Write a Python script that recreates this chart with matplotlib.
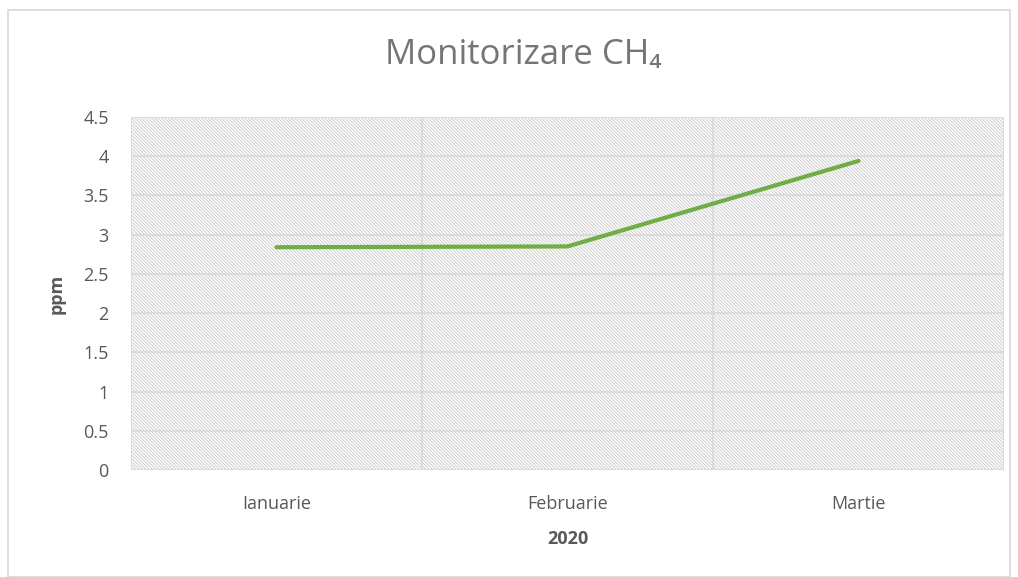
import matplotlib
matplotlib.use("Agg")
import matplotlib.pyplot as plt
from matplotlib.patches import Rectangle

plt.rcParams['font.family'] = ['Open Sans', 'DejaVu Sans']
plt.rcParams['hatch.linewidth'] = 0.7

# data
months = ["Ianuarie", "Februarie", "Martie"]
ch4_ppm = [2.84, 2.85, 3.94]

fig = plt.figure(figsize=(10.18, 5.77), dpi=100)
ax = fig.add_axes([131/1018, 1 - 470/577, (1004-131)/1018, (470-117)/577])

# outer chart border
fig.patches.append(Rectangle((8/1018, 0), 1 - 16/1018, 1 - 10/577, transform=fig.transFigure,
                             fill=False, edgecolor='#d9d9d9', lw=1.2))

x = list(range(len(months)))
ax.set_xlim(-0.5, len(months) - 0.5)
ax.set_ylim(0, 4.5)

# hatched plot area
ax.add_patch(Rectangle((0, 0), 1, 1, transform=ax.transAxes, facecolor='none',
                       edgecolor='#cfcfcf', hatch='\\' * 10, lw=0, zorder=0))

for y in [i * 0.5 for i in range(10)]:
    ax.axhline(y, color='#d9d9d9', lw=1.2, zorder=1)
for xb in [-0.5, 0.5, 1.5, 2.5]:
    ax.axvline(xb, color='#d9d9d9', lw=1.2, zorder=1)

ax.plot(x, ch4_ppm, color='#70ad47', lw=3, solid_capstyle='round', zorder=3)

for s in ax.spines.values():
    s.set_visible(False)
ax.tick_params(length=0, colors='#595959', labelsize=13)
ax.tick_params(axis='x', pad=18)
ax.tick_params(axis='y', pad=16)
ax.set_xticks(x)
ax.set_xticklabels(months)
ax.set_yticks([i * 0.5 for i in range(10)])
ax.set_yticklabels(["0", "0.5", "1", "1.5", "2", "2.5", "3", "3.5", "4", "4.5"])

ax.set_xlabel("2020", fontsize=13, fontweight='bold', color='#595959', labelpad=12)
ax.set_ylabel("ppm", fontsize=13, fontweight='bold', color='#595959', labelpad=13)
fig.text(523/1018, 1 - 55/577, "Monitorizare CH₄", ha='center', va='center', fontsize=25, color='#757575')

fig.savefig("out.png", dpi=100)
